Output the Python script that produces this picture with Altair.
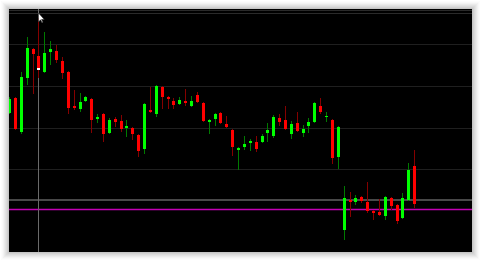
import altair as alt
import pandas as pd

# OHLC quotes, one bar per period
open_ = [1.3139, 1.3154, 1.3120, 1.3174, 1.3203, 1.3196, 1.3180, 1.3200, 1.3201, 1.3191,
         1.3180, 1.3146, 1.3143, 1.3151, 1.3153, 1.3133, 1.3138, 1.3119, 1.3133, 1.3131,
         1.3124, 1.3124, 1.3117, 1.3103, 1.3142, 1.3138, 1.3165, 1.3155, 1.3151, 1.3148,
         1.3151, 1.3146, 1.3157, 1.3149, 1.3130, 1.3133, 1.3139, 1.3128, 1.3122, 1.3102,
         1.3105, 1.3109, 1.3110, 1.3110, 1.3119, 1.3116, 1.3134, 1.3132, 1.3118, 1.3129,
         1.3119, 1.3126, 1.3130, 1.3146, 1.3135, 1.3132, 1.3095, 1.3022, 1.3052, 1.3050,
         1.3055, 1.3050, 1.3041, 1.3040, 1.3036, 1.3054, 1.3047, 1.3034, 1.3052, 1.3086]
high = [1.3155, 1.3155, 1.3180, 1.3215, 1.3204, 1.3234, 1.3220, 1.3211, 1.3207, 1.3195,
        1.3181, 1.3162, 1.3159, 1.3156, 1.3154, 1.3138, 1.3139, 1.3134, 1.3135, 1.3137,
        1.3132, 1.3125, 1.3118, 1.3149, 1.3165, 1.3167, 1.3166, 1.3156, 1.3154, 1.3155,
        1.3163, 1.3156, 1.3160, 1.3150, 1.3133, 1.3139, 1.3140, 1.3136, 1.3123, 1.3105,
        1.3116, 1.3113, 1.3116, 1.3118, 1.3129, 1.3137, 1.3138, 1.3146, 1.3131, 1.3140,
        1.3127, 1.3134, 1.3150, 1.3154, 1.3140, 1.3133, 1.3126, 1.3066, 1.3060, 1.3057,
        1.3056, 1.3070, 1.3042, 1.3053, 1.3056, 1.3055, 1.3048, 1.3059, 1.3089, 1.3102]
low = [1.3138, 1.3122, 1.3118, 1.3167, 1.3158, 1.3174, 1.3179, 1.3187, 1.3189, 1.3173,
       1.3138, 1.3142, 1.3140, 1.3150, 1.3119, 1.3129, 1.3110, 1.3118, 1.3125, 1.3120,
       1.3115, 1.3112, 1.3095, 1.3098, 1.3139, 1.3135, 1.3143, 1.3143, 1.3143, 1.3147,
       1.3146, 1.3145, 1.3149, 1.3130, 1.3118, 1.3126, 1.3128, 1.3124, 1.3096, 1.3082,
       1.3102, 1.3101, 1.3100, 1.3109, 1.3110, 1.3114, 1.3126, 1.3122, 1.3113, 1.3120,
       1.3115, 1.3119, 1.3129, 1.3138, 1.3130, 1.3088, 1.3083, 1.3012, 1.3035, 1.3047,
       1.3049, 1.3039, 1.3032, 1.3036, 1.3032, 1.3042, 1.3028, 1.3033, 1.3051, 1.3044]
close = [1.3153, 1.3123, 1.3175, 1.3204, 1.3198, 1.3182, 1.3199, 1.3203, 1.3192, 1.3179,
         1.3144, 1.3144, 1.3150, 1.3155, 1.3132, 1.3135, 1.3118, 1.3132, 1.3130, 1.3123,
         1.3126, 1.3118, 1.3101, 1.3148, 1.3140, 1.3166, 1.3155, 1.3153, 1.3147, 1.3152,
         1.3149, 1.3151, 1.3150, 1.3131, 1.3132, 1.3138, 1.3129, 1.3125, 1.3105, 1.3104,
         1.3108, 1.3111, 1.3103, 1.3116, 1.3122, 1.3135, 1.3130, 1.3123, 1.3128, 1.3121,
         1.3123, 1.3130, 1.3149, 1.3140, 1.3136, 1.3094, 1.3125, 1.3054, 1.3050, 1.3054,
         1.3051, 1.3041, 1.3039, 1.3037, 1.3055, 1.3046, 1.3031, 1.3054, 1.3082, 1.3048]

# horizontal price levels
grid_levels = [1.3208, 1.3166, 1.3124, 1.3083]
top_levels = [1.3242, 1.3239]
bid_level = 1.3052
ask_level = 1.3043

# crosshair bar index and pointer price
cross_bar = 5
pointer_price = 1.3239

n = len(open_)
df = pd.DataFrame({
    "bar": list(range(n)),
    "open": open_, "high": high, "low": low, "close": close,
})

W, H = 463, 243
xscale = alt.Scale(domain=[-0.017, 78.86], round=True, nice=False, zero=False, padding=0)
yscale = alt.Scale(domain=[1.3000, 1.3243], round=True, nice=False, zero=False, padding=0)

X = alt.X("bar:Q", scale=xscale, axis=None)

# soft drop shadow around the chart window
shadow = pd.DataFrame({"k": list(range(8))})
shadow_layer = alt.Chart(shadow).transform_calculate(
    x0="-datum.k - 0.5", x1=f"{W} + datum.k + 0.5",
    y0="-datum.k - 0.5", y1=f"{H} + datum.k + 0.5",
    a="0.34 * pow(1 - datum.k / 8, 1.5)",
).mark_rect(filled=False, stroke="#555555", strokeWidth=1, clip=False).encode(
    x=alt.X("x0:Q", scale=None, axis=None),
    x2="x1:Q",
    y=alt.Y("y0:Q", scale=None, axis=None),
    y2="y1:Q",
    strokeOpacity=alt.StrokeOpacity("a:Q", scale=None, legend=None),
)

grid_layer = alt.Chart(pd.DataFrame({"p": grid_levels})).mark_rule(
    color="#1f1f1f", strokeWidth=1, yOffset=0.5
).encode(y=alt.Y("p:Q", scale=yscale, axis=None))

top_layer = alt.Chart(pd.DataFrame({"p": top_levels})).mark_rule(
    color="#2a2a2a", strokeWidth=1, yOffset=0.5
).encode(y=alt.Y("p:Q", scale=yscale, axis=None))

bid_layer = alt.Chart(pd.DataFrame({"p": [bid_level]})).mark_rule(
    color="#484848", strokeWidth=2
).encode(y=alt.Y("p:Q", scale=yscale, axis=None))

ask_layer = alt.Chart(pd.DataFrame({"p": [ask_level]})).mark_rule(
    color="#c400b4", strokeWidth=1.5, yOffset=0.5
).encode(y=alt.Y("p:Q", scale=yscale, axis=None))

cross_layer = alt.Chart(pd.DataFrame({"b": [cross_bar]})).mark_rule(
    color="#6a6a6a", strokeWidth=1, xOffset=0.5
).encode(x=alt.X("b:Q", scale=xscale, axis=None))

candles = alt.Chart(df).transform_calculate(
    wick_color="datum.close >= datum.open ? '#007a00' : '#850000'",
    body_color="datum.close >= datum.open ? '#00ff00' : '#ff0000'",
)

wicks = candles.mark_rule(strokeWidth=1, xOffset=0.5, clip=True).encode(
    x=X,
    y=alt.Y("low:Q", scale=yscale, axis=None),
    y2="high:Q",
    color=alt.Color("wick_color:N", scale=None, legend=None),
)

bodies = candles.mark_bar(size=3, xOffset=0.5, clip=True).encode(
    x=X,
    y=alt.Y("open:Q", scale=yscale, axis=None),
    y2="close:Q",
    color=alt.Color("body_color:N", scale=None, legend=None),
)

# crosshair marker on the hovered bar's close
mark_df = pd.DataFrame({"b": [cross_bar], "p0": [close[cross_bar] + 0.0002], "p1": [close[cross_bar]]})
marker = alt.Chart(mark_df).mark_bar(size=3, xOffset=0.5, color="white").encode(
    x=alt.X("b:Q", scale=xscale, axis=None),
    y=alt.Y("p0:Q", scale=yscale, axis=None),
    y2="p1:Q",
)

arrow_path = "M0,0 L0,1.7 L0.4,1.3 L0.66,1.85 L0.86,1.76 L0.6,1.22 L1.1,1.22 Z"
pointer = alt.Chart(pd.DataFrame({"b": [cross_bar], "p": [pointer_price]})).mark_point(
    shape=arrow_path, filled=True, fill="white", stroke="#222222", strokeWidth=0.6,
    size=110, opacity=1, xOffset=0.5,
).encode(
    x=alt.X("b:Q", scale=xscale, axis=None),
    y=alt.Y("p:Q", scale=yscale, axis=None),
)

chart = alt.layer(
    shadow_layer, grid_layer, top_layer, bid_layer, ask_layer, cross_layer,
    wicks, bodies, marker, pointer,
).properties(
    width=W, height=H,
    autosize=alt.AutoSizeParams(type="none"),
    padding={"left": 9, "top": 9, "right": 8, "bottom": 8},
    background="white",
).configure_view(fill="black", stroke=None)

chart.save("out.html", embed_options={"renderer": "svg", "actions": False})
